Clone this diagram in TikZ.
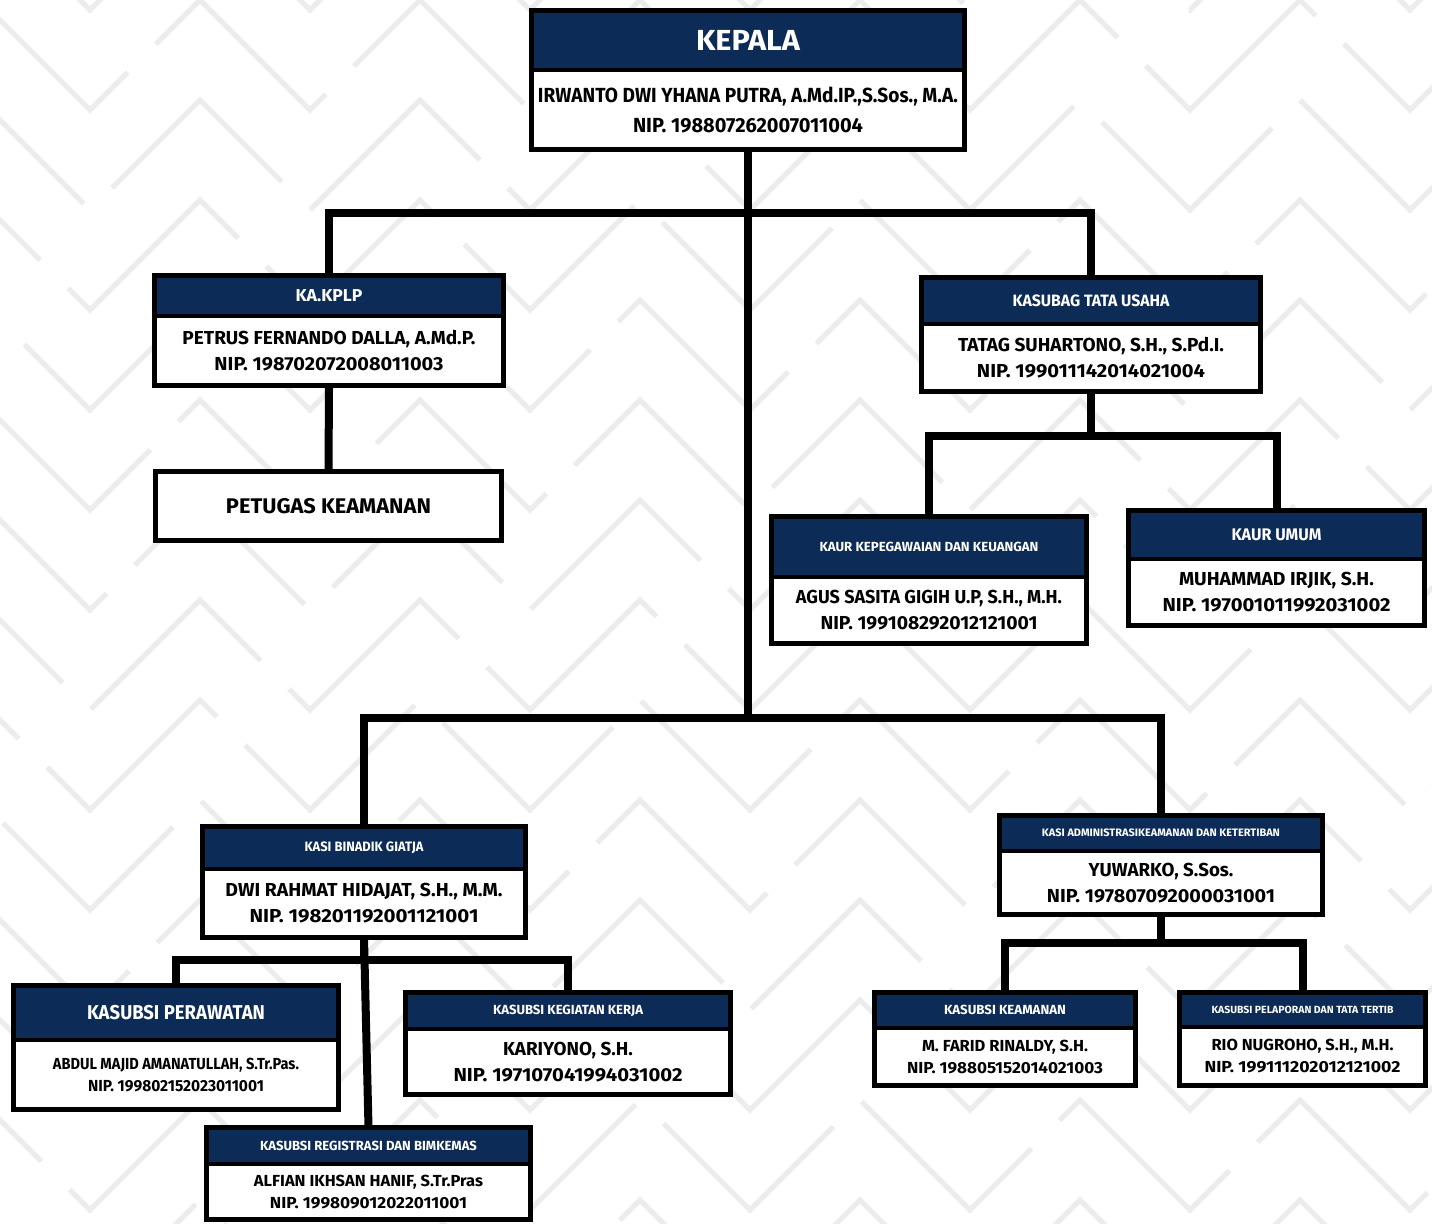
\documentclass[tikz,border=0pt]{standalone}
\usepackage{fontspec}
\usepackage{graphicx}
\setmainfont{Fira Sans}
\usetikzlibrary{positioning}

\definecolor{navy}{RGB}{12,43,86}
\definecolor{pattern}{RGB}{236,236,236}

\newlength{\pxu}
\setlength{\pxu}{0.5pt}
% squeeze a line of text to the width it has in the chart
\newcommand{\fitto}[2]{\resizebox{#1\pxu}{\height}{#2}}
\newcommand{\fs}[1]{\fontsize{#1}{#1}\selectfont}
% one post: dark title band on top, white name box under it
\newcommand{\jabatan}[9]{%
  \node[headbox, anchor=north, minimum width={(#3-#2-5)*\pxu},
        minimum height={(#5-#4-2.5)*\pxu}] (#1h) at ({(#2+#3)/2},{#4+2.5}) {#8};
  \node[bodybox, #7, minimum width={(#3-#2-5)*\pxu},
        minimum height={(#6-#5-2.5)*\pxu}, below=0pt of #1h] (#1) {#9};
}

\begin{document}
\begin{tikzpicture}[x=0.5pt, y=-0.5pt,
  headbox/.style={draw=black, line width=2.3pt, fill=navy, text=white,
    inner sep=0pt, outer sep=0pt, font=\bfseries},
  bodybox/.style={draw=black, line width=2.3pt, fill=white, align=center,
    inner sep=0pt, outer sep=0pt},
  bodyL/.style={font=\bfseries\fontsize{10.2}{15}\selectfont},
  bodyM/.style={font=\bfseries\fontsize{9.4}{13}\selectfont},
  bodyS/.style={font=\bfseries\fontsize{8}{11}\selectfont},
  link/.style={line width=4pt, line join=miter},
  bgline/.style={draw=pattern, line width=2.5pt}]

\useasboundingbox (0,0) rectangle (1432,1224);
\fill[white] (0,0) rectangle (1432,1224);

% background maze
\begin{scope}
  \clip (0,0) rectangle (1432,1224);
  \foreach \r in {-3,...,13}{
    \draw[bgline, dash pattern=on 120pt off 20pt, dash phase=\r*31pt]
      (-240,\r*100) \foreach \k in {1,...,17}{ -- ({-240+\k*110},{\r*100+mod(\k,2)*110}) };
  }
\end{scope}

% posts
\jabatan{kepala}{529}{967}{8}{70}{152}{bodyL}
  {\fs{14.5}\fitto{104}{KEPALA}}
  {\fitto{420}{IRWANTO DWI YHANA PUTRA, A.Md.IP.,S.Sos., M.A.}\\\fitto{230}{NIP. 198807262007011004}}

\jabatan{kplp}{152}{506}{273}{316}{388}{bodyM}
  {\fs{8.6}\fitto{67}{KA.KPLP}}
  {\fitto{293}{PETRUS FERNANDO DALLA, A.Md.P.}\\\fitto{229}{NIP. 198702072008011003}}

\node[bodybox, font=\bfseries\fontsize{10.6}{12}\selectfont, anchor=north,
  minimum width={346*\pxu}, minimum height={69*\pxu}] (petugas) at (328.5,471.5)
  {\fitto{205}{PETUGAS KEAMANAN}};

\jabatan{kasubag}{919}{1263}{275}{324}{394}{bodyM}
  {\fs{8.2}\fitto{157}{KASUBAG TATA USAHA}}
  {\fitto{266}{TATAG SUHARTONO, S.H., S.Pd.I.}\\\fitto{228}{NIP. 199011142014021004}}

\jabatan{kepeg}{769}{1089}{514}{577}{646}{bodyM}
  {\fs{6.6}\fitto{219}{KAUR KEPEGAWAIAN DAN KEUANGAN}}
  {\fitto{266}{AGUS SASITA GIGIH U.P, S.H., M.H.}\\\fitto{217}{NIP. 199108292012121001}}

\jabatan{umum}{1126}{1427}{508}{559}{628}{bodyM}
  {\fs{8.4}\fitto{90}{KAUR UMUM}}
  {\fitto{195}{MUHAMMAD IRJIK, S.H.}\\\fitto{228}{NIP. 197001011992031002}}

\jabatan{binadik}{200}{528}{824}{869}{940}{bodyM}
  {\fs{6.8}\fitto{119}{KASI BINADIK GIATJA}}
  {\fitto{277}{DWI RAHMAT HIDAJAT, S.H., M.M.}\\\fitto{229}{NIP. 198201192001121001}}

\jabatan{admin}{997}{1325}{813}{851}{917}{bodyM}
  {\fs{5.4}\fitto{238}{KASI ADMINISTRASIKEAMANAN DAN KETERTIBAN}}
  {\fitto{145}{YUWARKO, S.Sos.}\\\fitto{228}{NIP. 197807092000031001}}

\jabatan{rawat}{11}{341}{983}{1040}{1112}{bodyS}
  {\fs{10}\fitto{178}{KASUBSI PERAWATAN}}
  {\fitto{246}{ABDUL MAJID AMANATULLAH, S.Tr.Pas.}\\\fitto{176}{NIP. 199802152023011001}}

\jabatan{giatja}{403}{733}{990}{1029}{1097}{bodyM}
  {\fs{6.6}\fitto{150}{KASUBSI KEGIATAN KERJA}}
  {\fitto{130}{KARIYONO, S.H.}\\\fitto{229}{NIP. 197107041994031002}}

\jabatan{regis}{204}{533}{1125}{1164}{1222}{bodyS}
  {\fs{6.6}\fitto{217}{KASUBSI REGISTRASI DAN BIMKEMAS}}
  {\fitto{229}{ALFIAN IKHSAN HANIF, S.Tr.Pras}\\\fitto{197}{NIP. 199809012022011001}}

\jabatan{aman}{872}{1138}{990}{1028}{1088}{bodyS}
  {\fs{6.6}\fitto{122}{KASUBSI KEAMANAN}}
  {\fitto{166}{M. FARID RINALDY, S.H.}\\\fitto{196}{NIP. 198805152014021003}}

\jabatan{lapor}{1177}{1428}{990}{1027}{1088}{bodyS}
  {\fs{5.2}\fitto{182}{KASUBSI PELAPORAN DAN TATA TERTIB}}
  {\fitto{182}{RIO NUGROHO, S.H., M.H.}\\\fitto{196}{NIP. 199111202012121002}}

% lines of command
\coordinate (topbar) at (748,213);
\coordinate (lowbar) at (748,718);
\coordinate (tubar) at (1091,436);
\coordinate (binbar) at (364,960);
\coordinate (admbar) at (1161,943);

\draw[link] (kepala.south) -- (lowbar);
\draw[link] (kplph.north) |- (topbar) -| (kasubagh.north);
\draw[link] (binadikh.north) |- (lowbar) -| (adminh.north);
\draw[link] (kplp.south) -- (petugas.north);
\draw[link] (kasubag.south) -- (tubar);
\draw[link] (kepegh.north) |- (tubar) -| (umumh.north);
\draw[link] (binadik.south) -- (binbar);
\draw[link] (rawath.north) |- (binbar) -| (giatjah.north);
\draw[link] (binadik.south) -- (regish.north);
\draw[link] (admin.south) -- (admbar);
\draw[link] (amanh.north) |- (admbar) -| (laporh.north);
\end{tikzpicture}
\end{document}
